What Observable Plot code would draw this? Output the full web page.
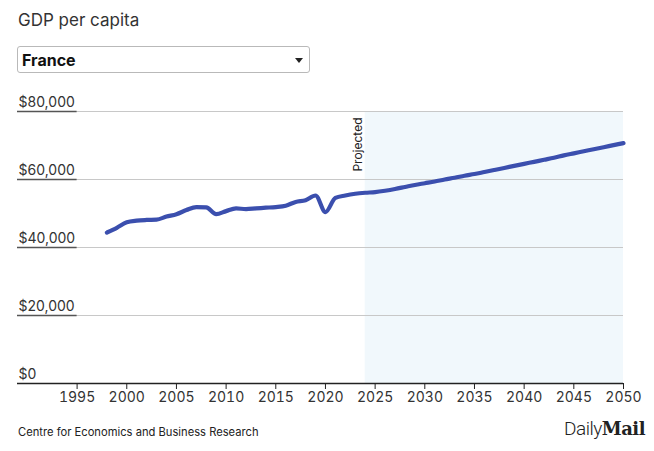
<!DOCTYPE html>
<html>
<head>
<meta charset="utf-8">
<script src="https://cdn.jsdelivr.net/npm/d3@7"></script>
<script src="https://cdn.jsdelivr.net/npm/@observablehq/plot@0.6"></script>
<style>
  html, body { margin: 0; padding: 0; background: #fff; }
  body { width: 654px; height: 451px; position: relative; overflow: hidden; font-family: Inter, "Noto Sans", sans-serif; color: #222; }
  #sub { position: absolute; left: 18px; top: 10px; font-size: 17px; color: #333; }
  #sel { position: absolute; left: 17px; top: 46px; width: 293px; height: 27px; border: 1px solid #b9b9b9; border-radius: 3px; box-sizing: border-box; }
  #sel span { position: absolute; left: 4px; top: 3px; font-size: 16px; font-weight: 700; color: #111; }
  #sel i { position: absolute; right: 6px; top: 11px; width: 0; height: 0; border-left: 4.5px solid transparent; border-right: 4.5px solid transparent; border-top: 5px solid #222; }
  #chart { position: absolute; left: 0; top: 90px; }
  #src { position: absolute; left: 18px; top: 425px; font-size: 11.2px; color: #222; }
  #logo { position: absolute; right: 9px; top: 417px; font-size: 19px; color: #222; white-space: nowrap; }
  #logo .d { font-family: Roboto, "Liberation Sans", sans-serif; font-weight: 300; letter-spacing: -0.5px; }
  #logo .m { font-family: "DejaVu Serif", serif; font-weight: 900; font-size: 18px; letter-spacing: -0.5px; }
</style>
</head>
<body>
<div id="sub">GDP per capita</div>
<div id="sel"><span>France</span><i></i></div>
<div id="chart"></div>
<div id="src">Centre for Economics and Business Research</div>
<div id="logo"><span class="d">Daily</span><span class="m">Mail</span></div>
<script>
const years = [1998,1999,2000,2001,2002,2003,2004,2005,2006,2007,2008,2009,2010,2011,2012,2013,2014,2015,2016,2017,2018,2019,2020,2021,2022,2023,
  2024,2025,2026,2027,2028,2029,2030,2031,2032,2033,2034,2035,2036,2037,2038,2039,2040,2041,2042,2043,2044,2045,2046,2047,2048,2049,2050];
const gdpPerCapita = [44400,45800,47400,47900,48100,48200,49100,49800,51000,51900,51800,49800,50700,51500,51300,51500,51700,51900,52300,53400,53900,55300,50400,54600,55300,55800,
  56100,56300,56700,57200,57800,58400,58900,59400,60000,60500,61100,61600,62200,62800,63400,64000,64600,65200,65800,66400,67100,67700,68300,68900,69500,70100,70700];
const xTicks = [1995,2000,2005,2010,2015,2020,2025,2030,2035,2040,2045,2050];
const yTicks = [0,20000,40000,60000,80000];
const projectedFrom = [2024];
const projectedTo = [2050];
const projectedLabel = ["Projected"];

const data = years.map((y,i) => ({year: y, value: gdpPerCapita[i]}));
const fmt = v => "$" + d3.format(",")(v);

const chart = Plot.plot({
  width: 654,
  height: 320,
  marginLeft: 17,
  marginRight: 31,
  marginTop: 21,
  marginBottom: 27,
  style: {fontFamily: "Inter, 'Noto Sans', sans-serif", background: "transparent"},
  x: {domain: [1989, 2050], axis: null, label: null},
  y: {domain: [0, 80000], axis: null, label: null},
  marks: [
    Plot.rect(projectedFrom, {x1: d => d, x2: (d,i) => projectedTo[i], y1: 0, y2: 80000, fill: "#f1f8fc"}),
    Plot.ruleY(yTicks.filter(d => d > 0), {stroke: "#c8c8c8", strokeWidth: 1}),
    Plot.ruleY(yTicks.filter(d => d > 0), {x1: 1989, x2: 1995, stroke: "#555", strokeWidth: 1.5}),
    Plot.text(yTicks, {x: 1989, y: d => d, text: d => fmt(d), textAnchor: "start", lineAnchor: "bottom", dx: 1, dy: -5, fontSize: 14, fill: "#333"}),
    Plot.ruleY([0], {stroke: "#222", strokeWidth: 1.5}),
    Plot.axisX({ticks: xTicks, tickFormat: d => String(d), tickSize: 6, tickPadding: 3, fontSize: 14, stroke: "#222", color: "#333", label: null}),
    Plot.text(projectedLabel, {x: projectedFrom[0], y: 80000, text: d => d, rotate: -90, textAnchor: "end", lineAnchor: "bottom", dx: -3, dy: 6, fontSize: 12, fill: "#222"}),
    Plot.line(data, {x: "year", y: "value", stroke: "#3b4fae", strokeWidth: 4.2, curve: "monotone-x"})
  ]
});
document.getElementById("chart").appendChild(chart);
</script>
</body>
</html>
